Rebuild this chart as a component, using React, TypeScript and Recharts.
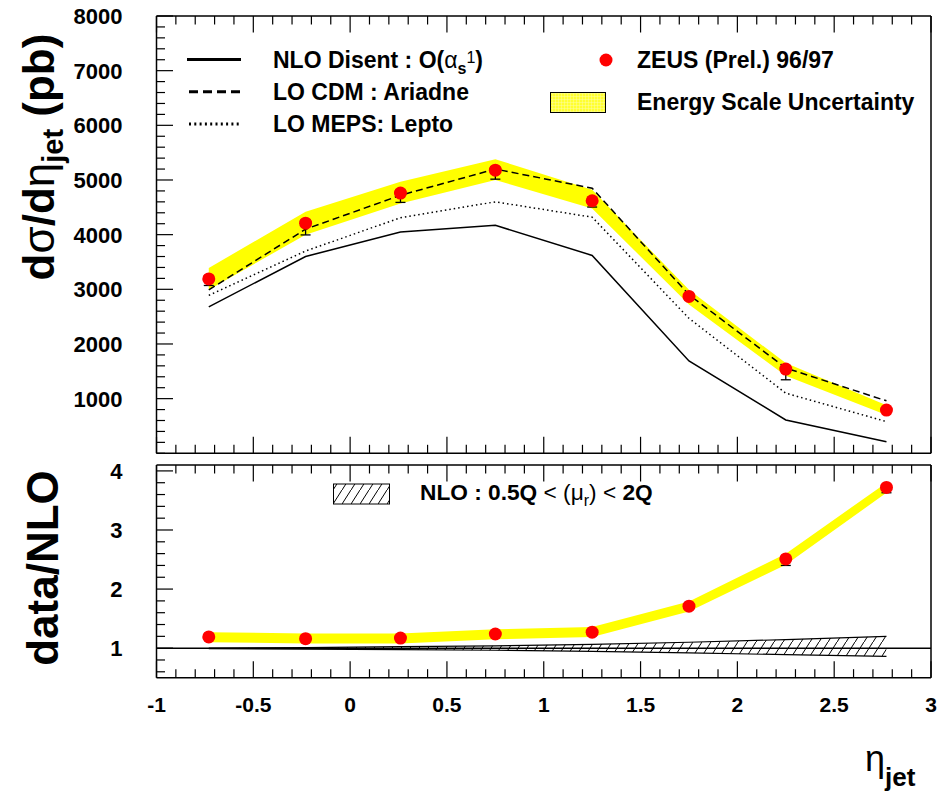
import React from 'react';
import { ComposedChart, Line, Area, Scatter, ErrorBar, XAxis, YAxis, ReferenceLine } from 'recharts';

// bin centres in eta_jet
const etaValues = [-0.73, -0.23, 0.26, 0.75, 1.25, 1.75, 2.25, 2.77];

// upper panel: d sigma / d eta (pb)
const zeusValues = [3190, 4210, 4760, 5180, 4620, 2870, 1540, 790];
const zeusErrLow = [120, 215, 170, 165, 115, 60, 195, 40];
const zeusErrHigh = [60, 60, 60, 60, 60, 50, 60, 40];
const nloDisent = [2680, 3600, 4050, 4170, 3620, 1690, 610, 210];
const cdmAriadne = [2990, 4100, 4720, 5200, 4850, 2900, 1560, 960];
const mepsLepto = [2890, 3700, 4310, 4600, 4320, 2470, 1100, 580];
const escaleLow = [2990, 4000, 4570, 5000, 4480, 2720, 1420, 700];
const escaleHigh = [3390, 4420, 4970, 5380, 4820, 2990, 1650, 880];

// lower panel: data / NLO
const ratioValues = [1.19, 1.16, 1.17, 1.24, 1.27, 1.71, 2.51, 3.72];
const ratioErrLow = [0.04, 0.05, 0.04, 0.04, 0.03, 0.04, 0.11, 0.09];
const ratioErrHigh = [0.03, 0.03, 0.03, 0.03, 0.03, 0.03, 0.03, 0.03];
const ratioBandLow = [1.10, 1.08, 1.08, 1.15, 1.19, 1.62, 2.41, 3.63];
const ratioBandHigh = [1.27, 1.25, 1.25, 1.32, 1.36, 1.79, 2.60, 3.80];
const scaleBandLow = [0.99, 0.985, 0.975, 0.965, 0.945, 0.92, 0.89, 0.86];
const scaleBandHigh = [1.0, 1.01, 1.025, 1.04, 1.065, 1.10, 1.145, 1.20];

// axes
const xMajorTicks = [-1, -0.5, 0, 0.5, 1, 1.5, 2, 2.5, 3];
const topYMajorTicks = [1000, 2000, 3000, 4000, 5000, 6000, 7000, 8000];
const bottomYMajorTicks = [1, 2, 3, 4];

const xTicks = Array.from({ length: 41 }, (_, i) => Math.round((-1 + i * 0.1) * 10) / 10);
const topYTicks = Array.from({ length: 41 }, (_, i) => i * 200);
const bottomYTicks = Array.from({ length: 18 }, (_, i) => Math.round((0.6 + i * 0.2) * 10) / 10);

const FONT = "'Liberation Sans', Arial, Helvetica, sans-serif";
const MAJOR = 16.5;
const MINOR = 8.5;
const TICK_W = 1.2;

const topData = etaValues.map((eta, i) => ({
  eta,
  zeus: zeusValues[i],
  zeusErr: [zeusErrLow[i], zeusErrHigh[i]],
  nlo: nloDisent[i],
  cdm: cdmAriadne[i],
  meps: mepsLepto[i],
  escale: [escaleLow[i], escaleHigh[i]],
}));

const bottomData = etaValues.map((eta, i) => ({
  eta,
  ratio: ratioValues[i],
  ratioErr: [ratioErrLow[i], ratioErrHigh[i]],
  band: [ratioBandLow[i], ratioBandHigh[i]],
  scale: [scaleBandLow[i], scaleBandHigh[i]],
}));

const isIn = (list: number[], v: number) => list.some((m) => Math.abs(m - v) < 1e-6);

const makeXTick = (side: 'top' | 'bottom', labels: boolean) => (props: any) => {
  const { x, y, payload } = props;
  const v = payload.value;
  const major = isIn(xMajorTicks, v);
  const len = major ? MAJOR : MINOR;
  const dir = side === 'bottom' ? -1 : 1;
  return (
    <g>
      <line x1={x} y1={y} x2={x} y2={y + dir * len} stroke="#000" strokeWidth={TICK_W} />
      {labels && major && (
        <text x={x} y={y + 34.3} textAnchor="middle" fontFamily={FONT} fontWeight="bold" fontSize={21} fill="#000">
          {String(v)}
        </text>
      )}
    </g>
  );
};

const makeYTick = (side: 'left' | 'right', majors: number[], labels: boolean) => (props: any) => {
  const { x, y, payload } = props;
  const v = payload.value;
  const major = isIn(majors, v);
  const len = major ? MAJOR : MINOR;
  const dir = side === 'left' ? 1 : -1;
  return (
    <g>
      <line x1={x} y1={y} x2={x + dir * len} y2={y} stroke="#000" strokeWidth={TICK_W} />
      {labels && major && (
        <text x={x - 34} y={y + 8} textAnchor="end" fontFamily={FONT} fontWeight="bold" fontSize={22} fill="#000">
          {String(v)}
        </text>
      )}
    </g>
  );
};

const redDot = (p: any) => <circle cx={p.cx} cy={p.cy} r={6.5} fill="#ff0000" />;

const frameAxes = (yDomain: [number, number], yTicks: number[], yMajors: number[], xLabels: boolean) => [
  <XAxis
    key="xb"
    xAxisId="b"
    dataKey="eta"
    type="number"
    domain={[-1, 3]}
    ticks={xTicks}
    interval={0}
    height={1}
    tickSize={0}
    tickMargin={0}
    tickLine={false}
    axisLine={{ stroke: '#000', strokeWidth: 1.5 }}
    tick={makeXTick('bottom', xLabels)}
  />,
  <XAxis
    key="xt"
    xAxisId="t"
    orientation="top"
    dataKey="eta"
    type="number"
    domain={[-1, 3]}
    ticks={xTicks}
    interval={0}
    height={1}
    tickSize={0}
    tickMargin={0}
    tickLine={false}
    axisLine={{ stroke: '#000', strokeWidth: 1.5 }}
    tick={makeXTick('top', false)}
  />,
  <YAxis
    key="yl"
    yAxisId="l"
    type="number"
    domain={yDomain}
    ticks={yTicks}
    interval={0}
    width={60}
    tickSize={0}
    tickMargin={0}
    tickLine={false}
    axisLine={{ stroke: '#000', strokeWidth: 1.5 }}
    tick={makeYTick('left', yMajors, true)}
  />,
  <YAxis
    key="yr"
    yAxisId="r"
    orientation="right"
    type="number"
    domain={yDomain}
    ticks={yTicks}
    interval={0}
    width={1}
    tickSize={0}
    tickMargin={0}
    tickLine={false}
    axisLine={{ stroke: '#000', strokeWidth: 1.5 }}
    tick={makeYTick('right', yMajors, false)}
  />,
];

const TopPanel = () => (
  <ComposedChart width={937} height={460} data={topData} margin={{ top: 15, right: 5, bottom: 5.7, left: 96.5 }}>
    {frameAxes([0, 8000], topYTicks, topYMajorTicks, false)}
    <Area xAxisId="b" yAxisId="l" type="linear" dataKey="escale" fill="#ffff00" fillOpacity={1} stroke="none" isAnimationActive={false} />
    <Line xAxisId="b" yAxisId="l" type="linear" dataKey="nlo" stroke="#000" strokeWidth={1.5} dot={false} isAnimationActive={false} />
    <Line xAxisId="b" yAxisId="l" type="linear" dataKey="cdm" stroke="#000" strokeWidth={1.5} strokeDasharray="7 4" dot={false} isAnimationActive={false} />
    <Line xAxisId="b" yAxisId="l" type="linear" dataKey="meps" stroke="#000" strokeWidth={1.5} strokeDasharray="1.5 3" dot={false} isAnimationActive={false} />
    <Scatter xAxisId="b" yAxisId="l" dataKey="zeus" shape={redDot} isAnimationActive={false}>
      <ErrorBar dataKey="zeusErr" direction="y" width={5} stroke="#000" strokeWidth={1.3} />
    </Scatter>
  </ComposedChart>
);

const BottomPanel = () => (
  <ComposedChart width={937} height={334} data={bottomData} margin={{ top: 4, right: 5, bottom: 115.3, left: 96.5 }}>
    {frameAxes([0.5, 4.1], bottomYTicks, bottomYMajorTicks, true)}
    <Area xAxisId="b" yAxisId="l" type="linear" dataKey="scale" fill="url(#hatchPat)" fillOpacity={1} stroke="#000" strokeWidth={1.2} isAnimationActive={false} />
    <ReferenceLine xAxisId="b" yAxisId="l" y={1} stroke="#000" strokeWidth={1.5} />
    <Area xAxisId="b" yAxisId="l" type="linear" dataKey="band" fill="#ffff00" fillOpacity={1} stroke="none" isAnimationActive={false} />
    <Scatter xAxisId="b" yAxisId="l" dataKey="ratio" shape={redDot} isAnimationActive={false}>
      <ErrorBar dataKey="ratioErr" direction="y" width={5} stroke="#000" strokeWidth={1.3} />
    </Scatter>
  </ComposedChart>
);

const Overlay = () => (
  <svg width={937} height={794} style={{ position: 'absolute', left: 0, top: 0, pointerEvents: 'none' }}>
    <defs>
      <pattern id="hatchPat" patternUnits="userSpaceOnUse" width={9} height={14}>
        <rect width={9} height={14} fill="#fff" />
        <path d="M-1,15.6 L10,-1.6" stroke="#000" strokeWidth={1} />
      </pattern>
      <pattern id="gridPat" patternUnits="userSpaceOnUse" width={3} height={3}>
        <rect width={3} height={3} fill="#ffff30" />
        <path d="M0,0 L3,0 M0,0 L0,3" stroke="#fdfdb8" strokeWidth={0.8} />
      </pattern>
    </defs>

    {/* upper legend */}
    <g fontFamily={FONT} fontSize={23} fontWeight="bold" fill="#000">
      <line x1={187} y1={59.5} x2={241} y2={59.5} stroke="#000" strokeWidth={3} />
      <text x={273} y={68}>
        NLO Disent : O(<tspan fontWeight="normal">α</tspan>
        <tspan fontSize={16} dy={6}>s</tspan>
        <tspan fontSize={16} fontWeight="normal" dy={-11}>1</tspan>
        <tspan dy={5}>)</tspan>
      </text>
      <line x1={189} y1={91.7} x2={241} y2={91.7} stroke="#000" strokeWidth={3} strokeDasharray="9 5" />
      <text x={273} y={100}>LO CDM : Ariadne</text>
      <line x1={189} y1={124} x2={241} y2={124} stroke="#000" strokeWidth={3} strokeDasharray="2 3.3" />
      <text x={273} y={132}>LO MEPS: Lepto</text>

      <circle cx={606} cy={60} r={6.5} fill="#ff0000" />
      <text x={637} y={68}>ZEUS (Prel.) 96/97</text>
      <rect x={550.5} y={92.5} width={55} height={20} fill="url(#gridPat)" stroke="#000" strokeWidth={1} />
      <text x={637} y={110}>Energy Scale Uncertainty</text>
    </g>

    {/* lower legend */}
    <g fontFamily={FONT} fontSize={22.7} fontWeight="bold" fill="#000">
      <rect x={333.5} y={484} width={56} height={20} fill="url(#hatchPat)" stroke="#000" strokeWidth={1} />
      <text x={420} y={499.5}>
        NLO : 0.5Q <tspan fontWeight="normal">&lt; (μ</tspan>
        <tspan fontWeight="normal" fontSize={16} dy={6}>r</tspan>
        <tspan fontWeight="normal" dy={-6}>) &lt; </tspan>2Q
      </text>
    </g>

    {/* axis titles */}
    <text transform="translate(54,157) rotate(-90)" textAnchor="middle" fontFamily={FONT} fontSize={44} fontWeight="bold" fill="#000">
      d<tspan fontWeight="normal">σ</tspan>/d<tspan fontWeight="normal">η</tspan>
      <tspan fontSize={29} dy={9}>jet</tspan>
      <tspan dy={-9}> (pb)</tspan>
    </text>
    <text transform="translate(58,568) rotate(-90)" textAnchor="middle" fontFamily={FONT} fontSize={44} fontWeight="bold" fill="#000">
      data/NLO
    </text>
    <text x={865} y={771} fontFamily={FONT} fontSize={36} fill="#000">
      η
    </text>
    <text x={885} y={786} fontFamily={FONT} fontSize={26} fontWeight="bold" fill="#000">
      jet
    </text>
  </svg>
);

export default function App() {
  return (
    <div style={{ position: 'absolute', left: 0, top: 0, width: 937, height: 794, background: '#fff' }}>
      <div style={{ position: 'absolute', left: 0, top: 0 }}>
        <TopPanel />
      </div>
      <div style={{ position: 'absolute', left: 0, top: 460 }}>
        <BottomPanel />
      </div>
      <Overlay />
    </div>
  );
}
